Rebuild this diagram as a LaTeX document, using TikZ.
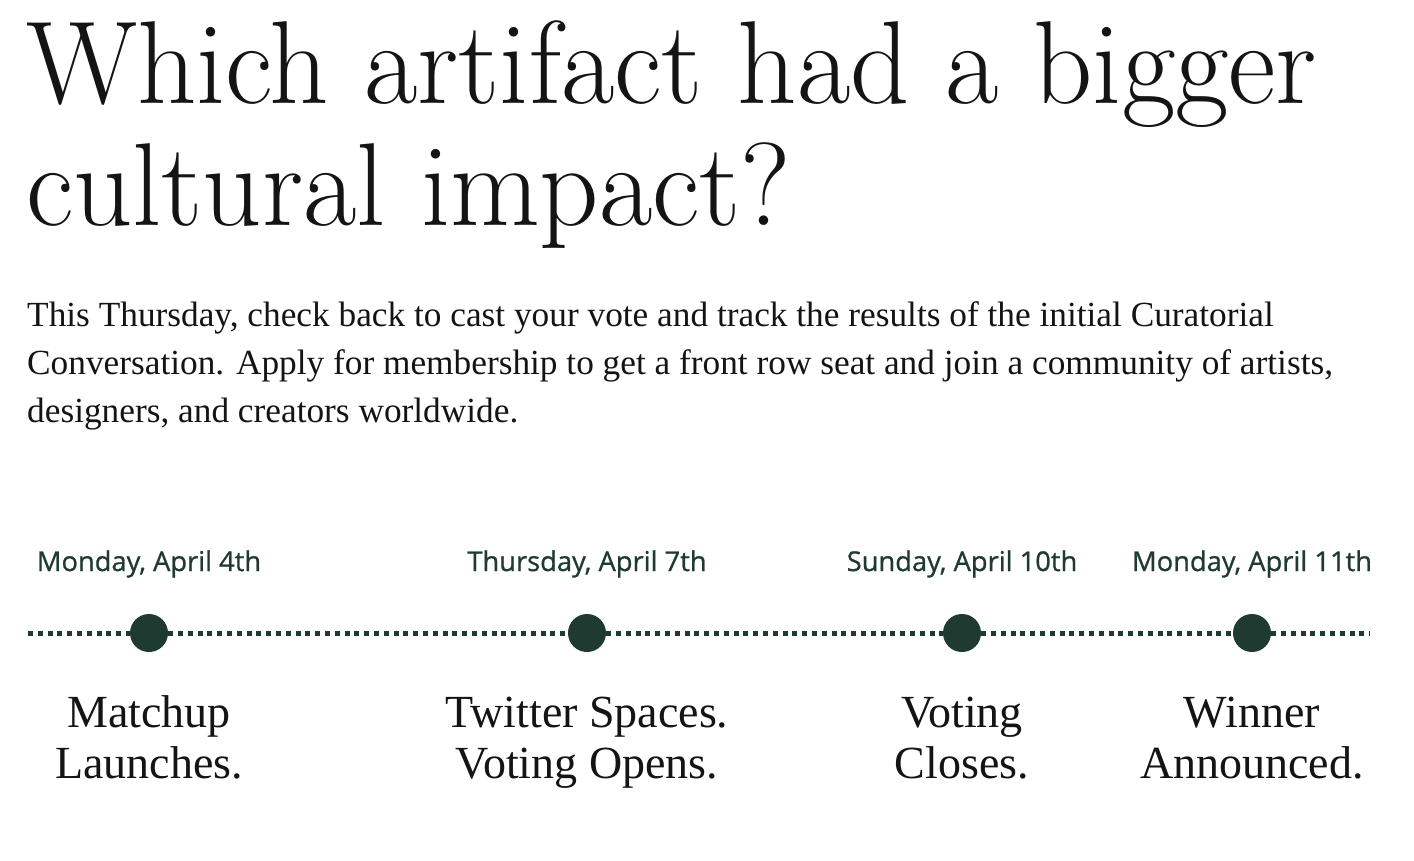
\documentclass[tikz,border=0pt]{standalone}
\usepackage{fontspec}
\usepackage{graphicx}
\newfontfamily\bodyfont{Liberation Serif}
\newfontfamily\datefont[FakeBold=0.8]{Open Sans}
\definecolor{pine}{HTML}{1F3A30}
\definecolor{ink}{HTML}{141414}

\begin{document}
\begin{tikzpicture}[x=1pt,y=-1pt]
            \tikzstyle{every node}+=[inner sep=0pt]
            \tikzstyle{datelbl}=[anchor=base,text=pine,font=\datefont\fontsize{27.3}{30}\selectfont]
            \tikzstyle{steplbl}=[anchor=base,text=ink,align=center,font=\bodyfont\fontsize{46}{51}\selectfont]
            \tikzstyle{dot}=[circle,fill=pine,minimum size=38pt]
            \useasboundingbox (0,0) rectangle (1414,860);
            \fill [white] (0,0) rectangle (1414,860);
            % heading
            \draw (26,103) node [anchor=base west,text=ink] (head1) {\scalebox{0.985}[1]{\fontsize{118}{122}\selectfont Which artifact had a bigger}};
            \draw (26,225) node [anchor=base west,text=ink] (head2) {\scalebox{0.985}[1]{\fontsize{118}{122}\selectfont cultural impact?}};
            % intro text (base = last line)
            \draw (27,422) node [anchor=base west,text=ink,align=left,font=\bodyfont\fontsize{35.3}{48}\selectfont] (intro) {This Thursday, check back to cast your vote and track the results of the initial Curatorial\\Conversation. Apply for membership to get a front row seat and join a community of artists,\\designers, and creators worldwide.};
            % timeline
            \coordinate (lend) at (28,633);
            \coordinate (rend) at (1370,633);
            \draw (149,633) node [dot] (d1) {};
            \draw (587,633) node [dot] (d2) {};
            \draw (962,633) node [dot] (d3) {};
            \draw (1252,633) node [dot] (d4) {};
            \draw [pine,line width=5pt,dash pattern=on 5pt off 4.8pt] (lend) -- (d1) -- (d2) -- (d3) -- (d4) -- (rend);
            \draw (149,571) node [datelbl] (t1) {Monday, April 4th};
            \draw (587,571) node [datelbl] (t2) {Thursday, April 7th};
            \draw (962,571) node [datelbl] (t3) {Sunday, April 10th};
            \draw (1252,571) node [datelbl] (t4) {Monday, April 11th};
            \draw (149,778) node [steplbl] (s1) {Matchup\\Launches.};
            \draw (587,778) node [steplbl] (s2) {Twitter Spaces.\\Voting Opens.};
            \draw (962,778) node [steplbl] (s3) {Voting\\Closes.};
            \draw (1252,778) node [steplbl] (s4) {Winner\\Announced.};
\end{tikzpicture}
\end{document}
